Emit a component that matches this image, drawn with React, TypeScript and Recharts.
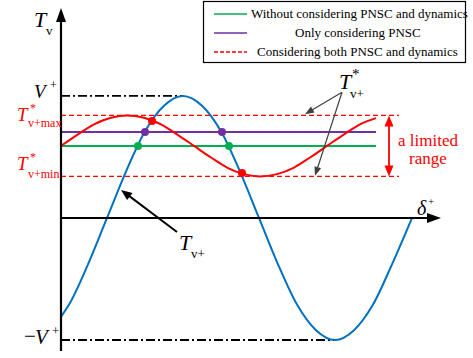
import { ComposedChart, Line, Scatter, XAxis, YAxis, ReferenceLine } from "recharts"

// delta positions (axis units) and per-unit torque values
const deltaBlue = [0, 8, 27, 46, 65, 84, 103, 122, 141, 160, 179, 198, 217, 236, 255, 274, 293, 312, 331, 351]
const tvPlus = [-0.81, -0.71, -0.38, 0, 0.38, 0.71, 0.92, 1, 0.92, 0.71, 0.38, 0, -0.38, -0.71, -0.92, -1, -0.92, -0.71, -0.38, 0]

const deltaRed = [0, 17, 33, 50, 66, 83, 100, 116, 133, 150, 166, 183, 199, 216, 233, 249, 266, 283, 299, 315]
const tvStar = [0.59, 0.685, 0.767, 0.821, 0.84, 0.821, 0.767, 0.685, 0.59, 0.495, 0.413, 0.359, 0.34, 0.359, 0.413, 0.495, 0.59, 0.685, 0.767, 0.818]

const V_PLUS = 1
const T_MAX = 0.84
const T_MIN = 0.34
const T_PNSC = 0.705
const T_BASE = 0.59
const LINE_END = 315
const LIMIT_END = 338

// intersections with the T_v+ curve
const redHitsX = [91, 181]
const redHitsY = [0.795, 0.369]
const purpleHitsX = [84, 161]
const greenHitsX = [77, 168]

const X_MAX = 380
const Y_DOMAIN = [-1.09, 1.72]

const BLUE = "#0070C0"
const RED = "#FF0000"
const PURPLE = "#7030A0"
const GREEN = "#00B050"
const SERIF = "'Liberation Serif', 'Times New Roman', serif"

const bluePts = deltaBlue.map((x, i) => ({ x, y: tvPlus[i] }))
const redPts = deltaRed.map((x, i) => ({ x, y: tvStar[i] }))
const purplePts = [{ x: 0, y: T_PNSC }, { x: LINE_END, y: T_PNSC }]
const greenPts = [{ x: 0, y: T_BASE }, { x: LINE_END, y: T_BASE }]
const redDots = redHitsX.map((x, i) => ({ x, y: redHitsY[i] }))
const purpleDots = purpleHitsX.map((x) => ({ x, y: T_PNSC }))
const greenDots = greenHitsX.map((x) => ({ x, y: T_BASE }))

function arrowHead(x1: number, y1: number, x2: number, y2: number, len: number, half: number) {
  const dx = x2 - x1
  const dy = y2 - y1
  const d = Math.hypot(dx, dy) || 1
  const ux = dx / d
  const uy = dy / d
  const bx = x2 - ux * len
  const by = y2 - uy * len
  return `${x2},${y2} ${bx - uy * half},${by + ux * half} ${bx + uy * half},${by - ux * half}`
}

// line with a filled head at the end point (and optionally at the start)
function arrowShape(color: string, width: number, len: number, half: number, both = false) {
  return (p: any) => {
    const { x1, y1, x2, y2 } = p
    const dx = x2 - x1
    const dy = y2 - y1
    const d = Math.hypot(dx, dy) || 1
    const sx = both ? x1 + (dx / d) * len * 0.8 : x1
    const sy = both ? y1 + (dy / d) * len * 0.8 : y1
    return (
      <g>
        <line x1={sx} y1={sy} x2={x2 - (dx / d) * len * 0.8} y2={y2 - (dy / d) * len * 0.8} stroke={color} strokeWidth={width} />
        <polygon points={arrowHead(x1, y1, x2, y2, len, half)} fill={color} />
        {both && <polygon points={arrowHead(x2, y2, x1, y1, len, half)} fill={color} />}
      </g>
    )
  }
}

const dot = (color: string) => (p: any) => <circle cx={p.cx} cy={p.cy} r={4} fill={color} />

export default function App() {
  return (
    <div style={{ position: "relative", width: 473, height: 358, background: "#fff" }}>
      <style>{"body{margin:0}"}</style>
      <ComposedChart width={473} height={358} margin={{ top: 8, right: 32, bottom: 7, left: 61 }}>
        <XAxis dataKey="x" type="number" domain={[0, X_MAX]} hide allowDataOverflow />
        <YAxis type="number" domain={Y_DOMAIN} hide allowDataOverflow />

        {/* level markers */}
        <ReferenceLine segment={[{ x: 0, y: V_PLUS }, { x: 122, y: V_PLUS }]} stroke="#000" strokeWidth={1.8} strokeDasharray="9 3 2 3" />
        <ReferenceLine segment={[{ x: 0, y: -V_PLUS }, { x: 274, y: -V_PLUS }]} stroke="#000" strokeWidth={1.8} strokeDasharray="9 3 2 3" />
        <ReferenceLine segment={[{ x: 0, y: T_MAX }, { x: LIMIT_END, y: T_MAX }]} stroke={RED} strokeWidth={1.3} strokeDasharray="5 3" />
        <ReferenceLine segment={[{ x: 0, y: T_MIN }, { x: LIMIT_END, y: T_MIN }]} stroke={RED} strokeWidth={1.3} strokeDasharray="5 3" />

        <Line data={greenPts} dataKey="y" type="linear" stroke={GREEN} strokeWidth={2} dot={false} isAnimationActive={false} />
        <Line data={purplePts} dataKey="y" type="linear" stroke={PURPLE} strokeWidth={2} dot={false} isAnimationActive={false} />
        <Line data={bluePts} dataKey="y" type="monotone" stroke={BLUE} strokeWidth={2} dot={false} isAnimationActive={false} />
        <Line data={redPts} dataKey="y" type="monotone" stroke={RED} strokeWidth={2} dot={false} isAnimationActive={false} />

        <Scatter data={greenDots} dataKey="y" shape={dot(GREEN)} isAnimationActive={false} />
        <Scatter data={purpleDots} dataKey="y" shape={dot(PURPLE)} isAnimationActive={false} />
        <Scatter data={redDots} dataKey="y" shape={dot(RED)} isAnimationActive={false} />

        {/* axes */}
        <ReferenceLine segment={[{ x: 0, y: 0 }, { x: X_MAX, y: 0 }]} shape={arrowShape("#000", 2, 14, 5)} />
        <ReferenceLine segment={[{ x: 0, y: Y_DOMAIN[0] }, { x: 0, y: Y_DOMAIN[1] }]} shape={arrowShape("#000", 2.2, 14, 5)} />

        {/* pointers */}
        <ReferenceLine segment={[{ x: 116, y: -0.115 }, { x: 60, y: 0.23 }]} shape={arrowShape("#000", 2, 11, 4.5)} />
        <ReferenceLine segment={[{ x: 281, y: 1.03 }, { x: 244, y: 0.85 }]} shape={arrowShape("#404040", 1.2, 9, 3.5)} />
        <ReferenceLine segment={[{ x: 281, y: 1.03 }, { x: 254, y: 0.345 }]} shape={arrowShape("#404040", 1.2, 9, 3.5)} />
        <ReferenceLine segment={[{ x: 328, y: T_MAX }, { x: 328, y: T_MIN }]} shape={arrowShape(RED, 1.8, 11, 4.5, true)} />
      </ComposedChart>

      <svg width={473} height={358} style={{ position: "absolute", left: 0, top: 0, pointerEvents: "none", fontFamily: SERIF }}>
        {/* legend */}
        <rect x={203.5} y={1.5} width={262} height={61} fill="#fff" stroke="#000" strokeWidth={1.2} />
        <line x1={214} y1={14} x2={247} y2={14} stroke={GREEN} strokeWidth={1.5} />
        <line x1={214} y1={33} x2={247} y2={33} stroke={PURPLE} strokeWidth={1.5} />
        <line x1={214} y1={52} x2={247} y2={52} stroke={RED} strokeWidth={1.5} strokeDasharray="4 2" />
        <g fontSize={13} fill="#000">
          <text x={251} y={18}>Without considering PNSC and dynamics</text>
          <text x={295} y={37}>Only considering PNSC</text>
          <text x={257} y={56}>Considering both PNSC and dynamics</text>
        </g>

        {/* axis labels */}
        <text x={34} y={27} fontSize={22} fontStyle="italic">T</text>
        <text x={46} y={35} fontSize={13}>v</text>
        <text x={417} y={215} fontSize={20} fontStyle="italic">δ</text>
        <text x={428} y={205} fontSize={11}>+</text>

        <text x={34} y={98} fontSize={19} fontStyle="italic">V</text>
        <text x={50} y={89} fontSize={12}>+</text>
        <text x={24} y={343} fontSize={21}>−</text>
        <text x={35} y={344} fontSize={21} fontStyle="italic">V</text>
        <text x={52} y={335} fontSize={13}>+</text>

        <g fill={RED}>
          <text x={17} y={121} fontSize={19} fontStyle="italic">T</text>
          <text x={30} y={112} fontSize={12}>*</text>
          <text x={28} y={127} fontSize={12}>v+max</text>
          <text x={17} y={170} fontSize={19} fontStyle="italic">T</text>
          <text x={30} y={161} fontSize={12}>*</text>
          <text x={28} y={178} fontSize={12}>v+min</text>
          <text x={428} y={146} fontSize={17} textAnchor="middle">a limited</text>
          <text x={428} y={164} fontSize={17} textAnchor="middle">range</text>
        </g>

        <text x={339} y={89} fontSize={22} fontStyle="italic">T</text>
        <text x={352} y={79} fontSize={15}>*</text>
        <text x={350} y={98} fontSize={13}>v+</text>

        <text x={179} y={250} fontSize={22} fontStyle="italic">T</text>
        <text x={191} y={258} fontSize={13}>v+</text>
      </svg>
    </div>
  )
}
